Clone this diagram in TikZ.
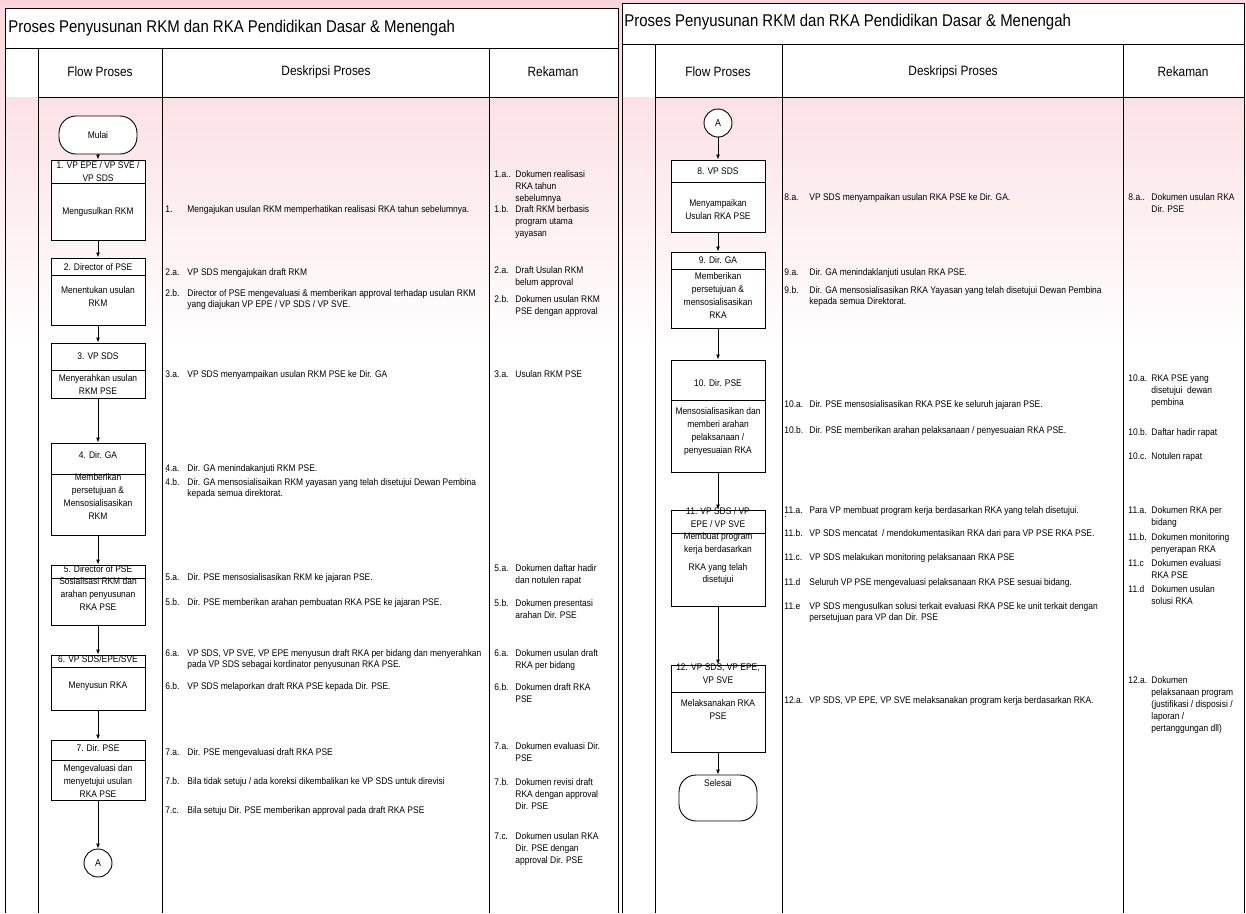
\documentclass[tikz,border=0pt]{standalone}
\usepackage{fontspec}
\setmainfont{Liberation Sans}[FakeStretch=0.88]
\usetikzlibrary{arrows.meta}
\definecolor{merahmuda}{RGB}{250,214,220}
\begin{document}
\begin{tikzpicture}[x=1pt, y=-1pt, line width=0.9pt, >={Latex[length=5pt,width=4pt]}]
\tikzstyle{kotak}=[rectangle, draw=black, fill=white, minimum width=94pt, inner sep=0]
\tikzstyle{terminal}=[rectangle, rounded corners=17pt, draw=black, fill=white, minimum width=78pt, font=\fontsize{9.6}{12}\selectfont]
\tikzstyle{konektor}=[circle, draw=black, fill=white, minimum size=28pt, inner sep=0, font=\fontsize{10}{12}\selectfont]
\tikzstyle{isi}=[align=center, inner sep=0, font=\fontsize{9.6}{13}\selectfont]
\tikzstyle{nomor}=[anchor=north west, inner sep=0, yshift=3.5pt, font=\fontsize{9.6}{11.5}\selectfont]
\tikzstyle{uraian}=[anchor=north west, inner sep=0, yshift=3.5pt, align=left, font=\fontsize{9.6}{11}\selectfont]
\tikzstyle{catatan}=[anchor=north west, inner sep=0, yshift=3.5pt, align=left, font=\fontsize{9.6}{11.8}\selectfont]
\tikzstyle{kepala}=[inner sep=0, font=\fontsize{13.5}{16}\selectfont]
\tikzstyle{judul}=[anchor=west, inner sep=0, font=\fontsize{17}{20}\selectfont]
\useasboundingbox (0,0) rectangle (1246,913);
\shade[top color=merahmuda, middle color=merahmuda, bottom color=white] (0,0) rectangle (1246,350);
% panel kiri
\fill[white] (5,8) rectangle (618,97);
\draw (5,8) rectangle (618,48);
\draw (5,48) -- (5,913) (38,48) -- (38,913) (162,48) -- (162,913) (489,48) -- (489,913) (618,48) -- (618,913) (38,97) -- (618,97);
\node[judul] (judulkiri) at (8,28) {Proses Penyusunan RKM dan RKA Pendidikan Dasar \& Menengah};
\node[kepala] (flowkiri) at (100,72) {Flow Proses};
\node[kepala] (deskkiri) at (326,72) {Deskripsi Proses};
\node[kepala] (rekkiri) at (553,72) {Rekaman};
% panel kanan
\fill[white] (622,3) rectangle (1244,97);
\draw (622,3) rectangle (1244,44);
\draw (622,44) -- (622,913) (655,44) -- (655,913) (782,44) -- (782,913) (1123,44) -- (1123,913) (1244,44) -- (1244,913) (655,97) -- (1244,97);
\node[judul] (judulkanan) at (624,22) {Proses Penyusunan RKM dan RKA Pendidikan Dasar \& Menengah};
\node[kepala] (flowkanan) at (718,72) {Flow Proses};
\node[kepala] (deskkanan) at (953,72) {Deskripsi Proses};
\node[kepala] (rekkanan) at (1183,72) {Rekaman};
% kotak proses
\node[terminal, minimum height=38pt] (mulai) at (98,135) {Mulai};
\foreach \nm/\x/\atas/\bawah/\garis in {k1/98/160/240/183, k2/98/258/325/275, k3/98/343/398/370, k4/98/443/535/474, k5/98/565/625/578, k6/98/655/710/667, k7/98/740/800/760, k8/718/160/232/182, k9/718/252/328/269, k10/718/360/472/400, k11/718/510/606/533, k12/718/665/752/692}
{\node[kotak, minimum height=\bawah-\atas] (\nm) at (\x,{(\atas+\bawah)/2}) {};
\draw ({\x-47},\garis) -- ({\x+47},\garis);}
\foreach \x/\y/\t in {98/172/{1. VP EPE / VP SVE /\\VP SDS}, 98/212/{Mengusulkan RKM}, 98/267/{2. Director of PSE}, 98/297/{Menentukan usulan\\RKM}, 98/356/{3. VP SDS}, 98/385/{Menyerahkan usulan\\RKM PSE}, 98/455/{4. Dir. GA}, 98/497/{Memberikan\\persetujuan \&\\Mensosialisasikan\\RKM}, 98/569/{5. Director of PSE}, 98/594/{Sosialisasi RKM dan\\arahan penyusunan\\RKA PSE}, 98/659/{6. VP SDS/EPE/SVE}, 98/686/{Menyusun RKA}, 98/748/{7. Dir. PSE}, 98/781/{Mengevaluasi dan\\menyetujui usulan\\RKA PSE}, 718/171/{8. VP SDS}, 718/210/{Menyampaikan\\Usulan RKA PSE}, 718/260/{9. Dir. GA}, 718/296/{Memberikan\\persetujuan \&\\mensosialisasikan\\RKA}, 718/383/{10. Dir. PSE}, 718/432/{Mensosialisasikan dan\\memberi arahan\\pelaksanaan /\\penyesuaian RKA}, 718/518/{11. VP SDS / VP\\EPE / VP SVE}, 718/544/{Membuat program\\kerja berdasarkan}, 718/568/{RKA yang telah}, 718/580/{disetujui}, 718/674/{12. VP SDS, VP EPE,\\VP SVE}, 718/710/{Melaksanakan RKA\\PSE}}
\node[isi] (t-\x-\y) at (\x,\y) {\t};
\node[konektor] (ak) at (98,863) {A};
\node[konektor] (an) at (718,123) {A};
\node[terminal, minimum height=46pt] (selesai) at (718,798) {};
\node[isi] (selesaiteks) at (718,783) {Selesai};
\foreach \a/\b in {mulai/k1, k1/k2, k2/k3, k3/k4, k4/k5, k5/k6, k6/k7, k7/ak, an/k8, k8/k9, k9/k10, k10/k11, k11/k12, k12/selesai}
\draw[->] (\a) -- (\b);
% deskripsi kiri
\foreach \n/\y/\t in {1./209/{Mengajukan usulan RKM memperhatikan realisasi RKA tahun sebelumnya.}, 2.a./272/{VP SDS mengajukan draft RKM}, 2.b./293/{Director of PSE mengevaluasi \& memberikan approval terhadap usulan RKM\\yang diajukan VP EPE / VP SDS / VP SVE.}, 3.a./374/{VP SDS menyampaikan usulan RKM PSE ke Dir. GA}, 4.a./468/{Dir. GA menindakanjuti RKM PSE.}, 4.b./482/{Dir. GA mensosialisaikan RKM yayasan yang telah disetujui Dewan Pembina\\kepada semua direktorat.}, 5.a./577/{Dir. PSE mensosialisasikan RKM ke jajaran PSE.}, 5.b./602/{Dir. PSE memberikan arahan pembuatan RKA PSE ke jajaran PSE.}, 6.a./653/{VP SDS, VP SVE, VP EPE menyusun draft RKA per bidang dan menyerahkan\\pada VP SDS sebagai kordinator penyusunan RKA PSE.}, 6.b./686/{VP SDS melaporkan draft RKA PSE kepada Dir. PSE.}, 7.a./752/{Dir. PSE mengevaluasi draft RKA PSE}, 7.b./781/{Bila tidak setuju / ada koreksi dikembalikan ke VP SDS untuk direvisi}, 7.c./810/{Bila setuju Dir. PSE memberikan approval pada draft RKA PSE}}
{\node[nomor] (nk-\y) at (165,\y) {\n};
\node[uraian] (uk-\y) at (187,\y) {\t};}
\node[nomor] (titikkiri) at (165,475) {.};
% rekaman kiri
\foreach \n/\y/\t in {1.a../174/{Dokumen realisasi\\RKA tahun\\sebelumnya}, 1.b./209/{Draft RKM berbasis\\program utama\\yayasan}, 2.a./270/{Draft Usulan RKM\\belum approval}, 2.b./299/{Dokumen usulan RKM\\PSE dengan approval}, 3.a./374/{Usulan RKM PSE}, 5.a./568/{Dokumen daftar hadir\\dan notulen rapat}, 5.b./603/{Dokumen presentasi\\arahan Dir. PSE}, 6.a./653/{Dokumen usulan draft\\RKA per bidang}, 6.b./687/{Dokumen draft RKA\\PSE}, 7.a./746/{Dokumen evaluasi Dir.\\PSE}, 7.b./782/{Dokumen revisi draft\\RKA dengan approval\\Dir. PSE}, 7.c./836/{Dokumen usulan RKA\\Dir. PSE dengan\\approval Dir. PSE}}
{\node[nomor] (nr-\y) at (494,\y) {\n};
\node[catatan] (ur-\y) at (515,\y) {\t};}
% deskripsi kanan
\foreach \n/\y/\t in {8.a./197/{VP SDS menyampaikan usulan RKA PSE ke Dir. GA.}, 9.a./272/{Dir. GA menindaklanjuti usulan RKA PSE.}, 9.b./290/{Dir. GA mensosialisasikan RKA Yayasan yang telah disetujui Dewan Pembina\\kepada semua Direktorat.}, 10.a./404/{Dir. PSE mensosialisasikan RKA PSE ke seluruh jajaran PSE.}, 10.b./430/{Dir. PSE memberikan arahan pelaksanaan / penyesuaian RKA PSE.}, 11.a./510/{Para VP membuat program kerja berdasarkan RKA yang telah disetujui.}, 11.b./533/{VP SDS mencatat \ / mendokumentasikan RKA dari para VP PSE RKA PSE.}, 11.c./557/{VP SDS melakukan monitoring pelaksanaan RKA PSE}, 11.d/582/{Seluruh VP PSE mengevaluasi pelaksanaan RKA PSE sesuai bidang.}, 11.e/606/{VP SDS mengusulkan solusi terkait evaluasi RKA PSE ke unit terkait dengan\\persetujuan para VP dan Dir. PSE}, 12.a./700/{VP SDS, VP EPE, VP SVE melaksanakan program kerja berdasarkan RKA.}}
{\node[nomor] (nkn-\y) at (784,\y) {\n};
\node[uraian] (ukn-\y) at (809,\y) {\t};}
\node[nomor] (titikkanan) at (784,520) {.};
% rekaman kanan
\foreach \n/\y/\t in {8.a../197/{Dokumen usulan RKA\\Dir. PSE}, 10.a./378/{RKA PSE yang\\disetujui \ dewan\\pembina}, 10.b./432/{Daftar hadir rapat}, 10.c./456/{Notulen rapat}, 11.a./510/{Dokumen RKA per\\bidang}, 11.b./537/{Dokumen monitoring\\penyerapan RKA}, 11.c/563/{Dokumen evaluasi\\RKA PSE}, 11.d/589/{Dokumen usulan\\solusi RKA}, 12.a./680/{Dokumen\\pelaksanaan program\\(justifikasi / disposisi /\\laporan /\\pertanggungan dll)}}
{\node[nomor] (nrn-\y) at (1128,\y) {\n};
\node[catatan] (urn-\y) at (1151,\y) {\t};}
\end{tikzpicture}
\end{document}
